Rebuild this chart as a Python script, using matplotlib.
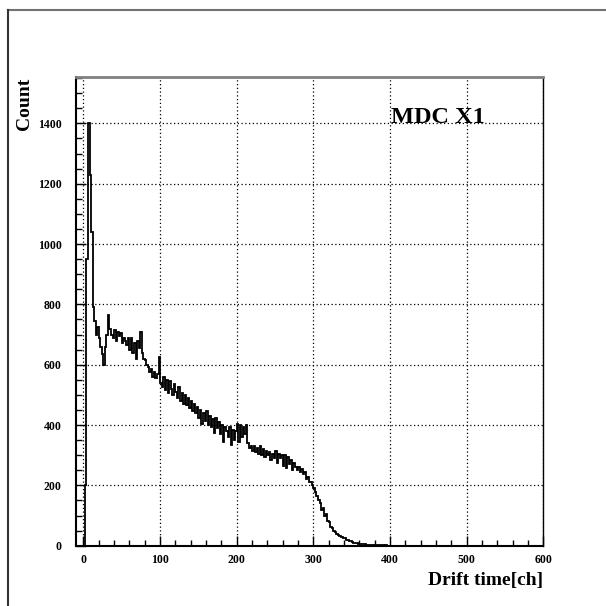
import matplotlib
matplotlib.use("Agg")
import matplotlib.pyplot as plt
import numpy as np
from matplotlib.lines import Line2D

plt.rcParams['font.family'] = ['Liberation Serif', 'DejaVu Serif']
plt.rcParams['font.weight'] = 'bold'

# drift time histogram, 2 channels per bin
bin_width = 2
counts_0_100 = [0, 200, 950, 1400, 1230, 1040, 790, 745, 700, 725,
                690, 660, 635, 600, 660, 700, 765, 720, 700, 690,
                715, 680, 710, 695, 705, 672, 690, 678, 665, 690,
                650, 690, 640, 672, 620, 680, 655, 710, 640, 620,
                615, 600, 592, 575, 585, 560, 575, 555, 570, 625]
counts_100_200 = [540, 525, 560, 515, 550, 505, 545, 520, 500, 535,
                  510, 490, 525, 480, 505, 470, 500, 465, 490, 455,
                  480, 445, 470, 440, 460, 425, 450, 405, 440, 415,
                  445, 400, 430, 395, 420, 375, 425, 390, 410, 370,
                  400, 345, 395, 380, 360, 395, 335, 385, 350, 380]
counts_200_300 = [405, 345, 400, 360, 395, 370, 400, 340, 325, 330,
                  315, 330, 310, 325, 305, 332, 300, 320, 295, 315,
                  300, 312, 285, 305, 290, 315, 275, 305, 290, 300,
                  265, 300, 258, 295, 270, 285, 250, 275, 262, 250,
                  262, 245, 255, 238, 245, 222, 228, 210, 212, 200]
counts_300_400 = [190, 178, 165, 150, 140, 118, 125, 100, 105, 82,
                  78, 62, 58, 50, 46, 40, 36, 32, 28, 25,
                  24, 20, 18, 15, 14, 12, 10, 9, 8, 7,
                  6, 5, 5, 4, 3, 3, 2, 3, 2, 2,
                  1, 2, 1, 1, 1, 1, 0, 1, 0, 0]

counts = np.array(counts_0_100 + counts_100_200 + counts_200_300 + counts_300_400)
edges = np.arange(len(counts) + 1) * bin_width

x_ticks = [0, 100, 200, 300, 400, 500, 600]
y_ticks = [0, 200, 400, 600, 800, 1000, 1200, 1400]

fig = plt.figure(figsize=(6.06, 6.06), dpi=100)
ax = fig.add_axes([0.125, 0.0995, 0.7716, 0.774])

ax.stairs(counts, edges, color='k', lw=1.3)

ax.set_xlim(-10, 600)
ax.set_ylim(0, 1555)
ax.set_xticks(x_ticks)
ax.set_yticks(y_ticks)
ax.set_xticks(np.arange(0, 601, 20), minor=True)
ax.set_yticks(np.arange(0, 1551, 50), minor=True)
ax.tick_params(which='major', direction='in', length=7, width=1, labelsize=8.5, color='k')
ax.tick_params(which='minor', direction='in', length=4, width=1, color='k')
ax.tick_params(axis='x', which='major', pad=6)
ax.tick_params(axis='y', which='major', pad=10)
for lab in ax.get_xticklabels() + ax.get_yticklabels():
    lab.set_fontweight('bold')

ax.grid(True, which='major', color='k', linestyle=(0, (1, 2)), lw=0.9)

ax.spines['left'].set_linewidth(1.5)
ax.spines['bottom'].set_linewidth(1.5)
ax.spines['top'].set_color('0.5')
ax.spines['top'].set_linewidth(2)
ax.spines['right'].set_linewidth(1)

ax.text(401, 1400, 'MDC X1', fontsize=17.5, fontweight='bold', ha='left', va='baseline')

fig.text(543 / 606, 1 - 585 / 606, 'Drift time[ch]', fontsize=14, fontweight='bold',
         ha='right', va='baseline')
fig.text(25 / 606, 1 - 78 / 606, 'Count', fontsize=14, fontweight='bold',
         rotation=90, ha='center', va='top')

# canvas border (top and left only)
fig.add_artist(Line2D([8 / 606, 1.0], [1 - 10 / 606, 1 - 10 / 606], color='0.45', lw=1.5))
fig.add_artist(Line2D([8 / 606, 8 / 606], [0.0, 1 - 10 / 606], color='0.2', lw=1.5))

fig.savefig('out.png', dpi=100)
